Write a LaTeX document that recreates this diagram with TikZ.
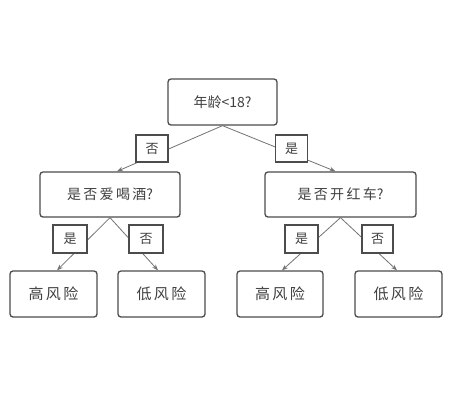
\documentclass[tikz,border=0pt]{standalone}
\usepackage{fontspec}
\newfontfamily\cjk{Noto Sans CJK SC}
\usetikzlibrary{arrows.meta}
\begin{document}
\begin{tikzpicture}[x=1pt,y=-1pt,
  box/.style={draw=black!70,line width=1.3pt,rounded corners=3pt,font=\cjk\fontsize{14}{16}\selectfont,text=black!75,inner sep=0pt},
  leaf/.style={box,font=\cjk\fontsize{15}{17}\selectfont,minimum height=46pt},
  lab/.style={draw=black!70,line width=1.3pt,fill=white,font=\cjk\fontsize{13}{15}\selectfont,text=black!75,inner sep=0pt},
  conn/.style={draw=black!55,line width=0.8pt,-{Stealth[length=6pt,width=4.5pt]}}]
\useasboundingbox[fill=white] (0,0) rectangle (458,400);
\node[box,minimum width=109pt,minimum height=46pt] (root) at (222.5,102) {年龄<18?};
\node[box,minimum width=140pt,minimum height=45pt] (lm) at (110,194.5) {是\,否\,爱\,喝\,酒?};
\node[box,minimum width=151pt,minimum height=45pt] (rm) at (340.5,194.5) {是\,否\,开\,红\,车?};
\node[leaf,minimum width=87pt] (l1) at (53.5,294) {高\,风\,险};
\node[leaf,minimum width=87pt] (l2) at (161.5,294) {低\,风\,险};
\node[leaf,minimum width=86pt] (r1) at (280,294) {高\,风\,险};
\node[leaf,minimum width=87pt] (r2) at (398.5,294) {低\,风\,险};
\draw[conn] (root.south) -- ([xshift=7pt]lm.north);
\draw[conn] (root.south) -- ([xshift=-5pt]rm.north);
\draw[conn] (lm.south) -- ([xshift=3.5pt]l1.north);
\draw[conn] (lm.south) -- ([xshift=-3.5pt]l2.north);
\draw[conn] (rm.south) -- ([xshift=2pt]r1.north);
\draw[conn] (rm.south) -- ([xshift=-1.5pt]r2.north);
\node[lab,minimum width=32pt,minimum height=27pt] (a1) at (152,148.5) {否};
\node[lab,minimum width=32pt,minimum height=27pt] (a2) at (291.5,148.5) {是};
\node[lab,minimum width=34pt,minimum height=28pt] (b1) at (70,239) {是};
\node[lab,minimum width=34pt,minimum height=28pt] (b2) at (146,239) {否};
\node[lab,minimum width=33pt,minimum height=28pt] (b3) at (301.5,239) {是};
\node[lab,minimum width=31pt,minimum height=28pt] (b4) at (377.5,239) {否};
\end{tikzpicture}
\end{document}
